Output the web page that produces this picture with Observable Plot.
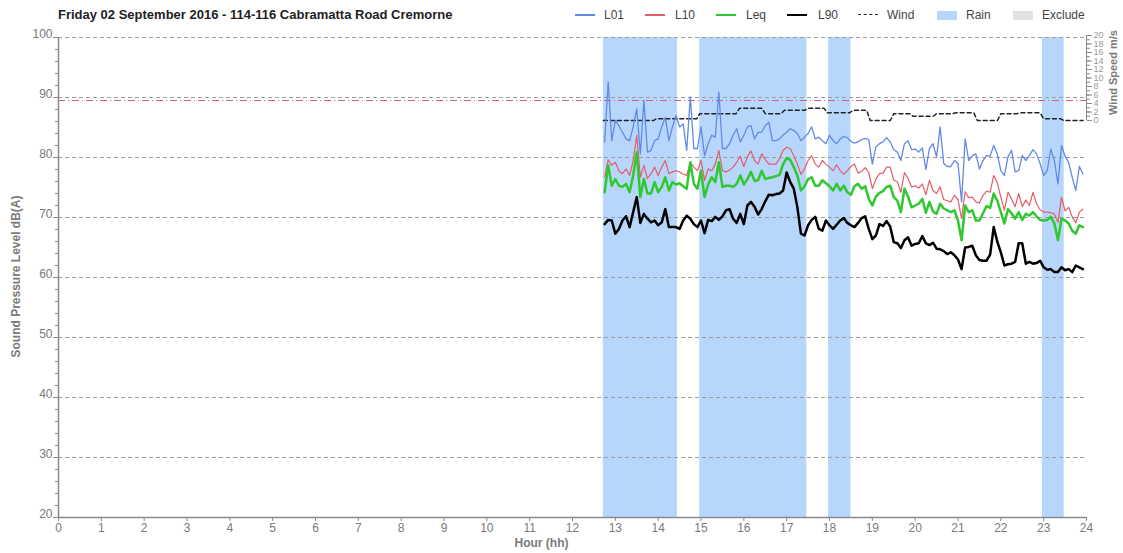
<!DOCTYPE html>
<html><head><meta charset="utf-8">
<script src="https://cdn.jsdelivr.net/npm/d3@7"></script>
<script src="https://cdn.jsdelivr.net/npm/@observablehq/plot@0.6"></script>
<style>
body{margin:0;background:#fff;font-family:"Liberation Sans",Arial,sans-serif;}
#wrap{position:relative;width:1123px;height:553px;overflow:hidden;}
#header{position:relative;height:26px;}
#title{position:absolute;left:58px;top:7px;font-weight:bold;font-size:13px;color:#222;white-space:nowrap;}
.lg{position:absolute;top:8px;font-size:12px;color:#444;white-space:nowrap;}
.sw{position:absolute;}
#chart svg{display:block;}
</style></head><body>
<div id="wrap"><div id="header"></div><div id="chart"></div></div>
<script>
// ---------- data ----------
const titleText = "Friday 02 September 2016 - 114-116 Cabramatta Road Cremorne";
const startHour = 12.75;       // 12:45
const stepHours = 5 / 60;      // 5-minute intervals

const L01 = [82.6,92.6,82.8,86.2,85.3,84.2,83.1,82.8,85.1,88.1,
  80.6,89.5,80.9,81.2,82.8,83.1,85.1,86.7,82.8,85.1,
  87.0,85.1,85.6,81.2,90.1,81.5,81.5,85.1,80.3,82.3,
  83.7,83.4,90.9,81.5,81.5,82.3,83.7,84.8,82.6,83.7,
  85.1,85.3,83.1,84.2,84.2,85.3,85.9,82.8,82.8,83.1,
  83.7,84.2,84.8,84.5,84.0,82.8,83.4,84.0,85.1,83.1,
  83.4,82.8,82.3,83.7,82.8,82.3,83.1,83.5,83.3,82.7,
  82.4,82.6,83.0,83.2,83.0,78.9,81.8,82.3,82.6,83.3,
  82.6,81.3,80.9,79.5,82.3,82.8,81.3,81.4,80.9,81.6,
  78.0,81.5,82.3,80.1,85.1,79.0,78.5,78.5,79.5,79.0,
  72.6,83.1,79.5,80.3,80.6,78.1,79.5,80.3,80.2,82.0,
  80.6,77.8,77.0,80.1,81.2,77.6,77.8,80.3,79.5,80.3,
  81.3,80.6,79.0,77.0,77.8,81.4,79.5,75.6,82.0,80.2,
  79.2,76.7,74.5,78.5,77.3];

const L10 = [76.7,79.6,78.7,79.2,77.8,77.3,78.1,77.0,79.5,83.7,
  76.7,78.7,76.5,77.3,78.4,77.0,78.4,79.5,77.3,77.6,
  77.8,77.6,77.2,77.0,79.2,78.4,77.8,79.5,76.2,78.1,
  77.8,78.9,81.2,77.8,77.6,77.9,78.4,79.2,80.2,78.5,
  80.1,81.1,79.5,78.9,80.6,79.7,78.9,78.9,78.9,79.8,
  81.2,81.7,81.5,80.3,78.9,77.2,78.1,79.5,80.3,78.9,
  78.4,79.5,78.9,78.4,77.8,78.8,77.8,77.2,77.8,78.5,
  78.9,77.4,77.7,78.3,77.5,74.8,76.4,77.3,77.4,78.4,
  78.4,76.2,76.0,74.2,77.5,76.5,75.1,75.3,74.9,75.6,
  73.8,76.2,74.5,74.0,75.1,73.0,72.8,72.6,73.7,73.0,
  69.8,74.3,73.3,73.4,72.6,72.4,73.7,74.4,74.2,77.0,
  75.8,73.4,71.2,74.2,73.1,71.8,74.0,71.8,72.9,72.0,
  74.2,72.3,71.3,70.9,70.9,70.8,70.6,69.2,73.4,71.1,
  71.7,70.1,69.1,70.9,71.4];

const Leq = [74.2,78.7,75.3,76.4,75.3,75.1,75.6,74.2,77.0,80.9,
  73.4,76.4,74.0,74.0,75.9,74.2,75.1,76.7,74.5,75.9,
  75.5,75.7,75.2,74.8,79.2,75.6,74.8,77.8,73.4,75.5,
  76.7,75.9,79.2,75.1,75.3,75.3,75.1,75.6,77.0,75.5,
  76.4,77.6,76.1,76.2,77.8,76.4,76.6,76.7,76.9,77.1,
  78.9,79.9,79.6,78.4,77.0,74.5,75.2,76.4,76.7,75.3,
  75.3,76.2,75.7,75.2,74.5,75.6,74.5,75.3,74.2,73.8,
  75.2,75.6,74.8,75.2,73.1,72.0,73.5,74.1,74.4,75.1,
  75.3,73.4,72.8,70.9,74.8,73.5,71.7,72.0,72.3,73.1,
  70.8,72.6,71.0,70.6,72.3,71.5,71.2,70.9,71.2,69.5,
  66.2,72.0,70.9,71.2,69.5,69.5,70.7,71.9,71.6,74.0,
  72.8,70.9,69.0,71.4,70.7,69.8,70.9,69.6,70.6,70.3,
  70.9,70.2,69.6,69.5,69.6,70.1,69.0,66.2,69.8,69.5,
  69.0,67.8,67.3,68.7,68.4];

const L90 = [68.9,69.6,69.5,67.3,68.1,69.5,70.2,68.4,70.9,73.4,
  69.1,70.6,69.8,69.2,69.5,68.7,69.2,71.4,68.4,68.4,
  68.4,68.1,69.5,70.3,69.8,68.9,68.4,69.5,67.4,69.6,
  69.4,70.1,69.6,70.2,71.2,71.4,69.8,69.1,70.6,68.9,
  72.0,72.6,71.8,70.5,71.4,72.7,73.8,73.7,73.9,74.0,
  74.5,77.5,75.9,74.8,71.7,67.3,67.0,68.7,69.6,70.1,
  68.1,67.8,69.5,68.7,68.1,68.8,69.5,69.9,69.1,68.7,
  68.4,69.1,69.9,70.2,68.1,66.4,67.0,68.9,68.6,69.4,
  68.5,65.9,65.7,64.9,66.2,66.7,65.3,65.6,65.7,66.9,
  65.7,65.4,65.8,64.8,64.7,64.4,63.9,64.2,63.7,63.0,
  61.4,65.0,65.1,65.3,63.7,62.9,62.8,62.8,63.8,68.4,
  66.0,64.2,62.0,62.2,62.3,62.6,65.7,65.7,62.3,62.6,
  62.3,62.4,62.8,61.7,61.3,61.4,60.9,60.9,61.7,61.2,
  61.4,60.9,62.0,61.7,61.4];

const windHours = [12.72,13.9,13.95,14.9,14.97,15.82,15.9,16.42,16.5,16.87,16.95,17.42,17.5,17.87,17.95,18.47,18.55,18.87,18.95,19.42,19.5,19.87,19.95,20.42,20.5,20.87,20.95,21.37,21.45,21.92,22.0,22.37,22.45,22.92,23.0,23.4,23.47,23.92];
const windSpeeds = [0,0,0.4,0.4,1.6,1.6,2.9,2.9,1.6,1.6,2.4,2.4,2.9,2.9,1.8,1.8,2.4,2.4,0,0,1.6,1.6,1.0,1.0,1.6,1.6,1.8,1.8,0,0,1.6,1.6,1.8,1.8,0.4,0.4,0,0];
const windThreshold = 4.7;

const rainStart = [12.72, 14.97, 17.98, 22.97];
const rainEnd   = [14.45, 17.47, 18.50, 23.48];

const dbTicks = [20,30,40,50,60,70,80,90,100];
const dbMinorTicks = d3.range(20, 101, 2);
const gridDb = [30,40,50,60,70,80,90,100];
const hourTicks = d3.range(0, 25, 1);
const windTicks = [0,2,4,6,8,10,12,14,16,18,20];
const windMinorTicks = d3.range(0, 21, 1);

const legendLabels = ["L01","L10","Leq","L90","Wind","Rain","Exclude"];
const yTitle = "Sound Pressure Level dB(A)";
const xTitle = "Hour (hh)";
const windTitle = "Wind Speed m/s";

// ---------- styles ----------
const colors = {L01:"#6389e6", L10:"#e55d68", Leq:"#2fc82f", L90:"#000000", Wind:"#222222", Rain:"#b6d7fb", Exclude:"#e2e2e2"};
const axisColor = "#8a8a8a";
const textColor = "#7a7a7a";

// wind axis maps onto the dB scale (0 m/s ≈ 86.17 dB, 20 m/s ≈ 100.33 dB)
const windZeroDb = 86.167, dbPerWind = 0.7083;
const toDb = w => windZeroDb + w * dbPerWind;

// ---------- header ----------
const header = document.getElementById("header");
const t = document.createElement("div"); t.id = "title"; t.textContent = titleText; header.appendChild(t);
const legendSw = [
  {left:575, w:20, type:"line", width:1.5},
  {left:645, w:20, type:"line", width:1.5},
  {left:716, w:20, type:"line", width:2},
  {left:787, w:20, type:"line", width:2.5},
  {left:858, w:20, type:"dash", width:1.5},
  {left:937, w:20, type:"box"},
  {left:1013, w:20, type:"box"}
];
const legendTextX = [604,675,746,818,887,966,1042];
legendLabels.forEach((lab, i) => {
  const s = legendSw[i];
  const d = document.createElement("div"); d.className = "sw";
  d.style.left = s.left + "px"; d.style.width = s.w + "px";
  const c = colors[lab];
  if (s.type === "line") { d.style.top = (15 - s.width/2) + "px"; d.style.height = s.width + "px"; d.style.background = c; }
  else if (s.type === "dash") { d.style.top = "14px"; d.style.height = "0"; d.style.borderTop = "1.5px dashed " + c; }
  else { d.style.top = "11px"; d.style.height = "9px"; d.style.background = c; }
  header.appendChild(d);
  const tx = document.createElement("div"); tx.className = "lg";
  tx.style.left = legendTextX[i] + "px"; tx.textContent = lab; header.appendChild(tx);
});

// ---------- chart ----------
const rows = L01.map((v, i) => ({t: startHour + i * stepHours, L01: v, L10: L10[i], Leq: Leq[i], L90: L90[i]}));
const windRows = windHours.map((h, i) => ({t: h, w: windSpeeds[i]}));
const rain = rainStart.map((s, i) => ({start: s, end: rainEnd[i]}));

const chart = Plot.plot({
  width: 1123, height: 527,
  marginLeft: 58, marginRight: 37, marginTop: 9, marginBottom: 36,
  x: {domain: [0, 24]},
  y: {domain: [20, toDb(20)]},
  style: {fontFamily: "Liberation Sans, Arial, sans-serif", fontSize: "12px", color: textColor, background: "white"},
  marks: [
    Plot.rect(rain, {x1: "start", x2: "end", y1: 20, y2: 100, fill: colors.Rain}),
    Plot.ruleY(gridDb, {stroke: "#9c9c9c", strokeDasharray: "4,3", strokeWidth: 1}),
    Plot.ruleY([windThreshold], {y: toDb, stroke: "#d6607f", strokeDasharray: "7,3,1,3", strokeWidth: 1}),
    Plot.line(windRows, {x: "t", y: d => toDb(d.w), stroke: colors.Wind, strokeWidth: 1.5, strokeDasharray: "4,3"}),
    Plot.line(rows, {x: "t", y: "L01", stroke: colors.L01, strokeWidth: 1.3}),
    Plot.line(rows, {x: "t", y: "L10", stroke: colors.L10, strokeWidth: 1.2}),
    Plot.line(rows, {x: "t", y: "Leq", stroke: colors.Leq, strokeWidth: 2.5}),
    Plot.line(rows, {x: "t", y: "L90", stroke: colors.L90, strokeWidth: 2.5}),
    // axis lines
    Plot.ruleX([0], {y1: 20, y2: 100, stroke: axisColor, strokeWidth: 1.5}),
    Plot.ruleY([20], {stroke: axisColor, strokeWidth: 1.5}),
    Plot.ruleX([24], {y1: toDb(0), y2: toDb(20), stroke: axisColor, strokeWidth: 1}),
    // left axis
    Plot.axisY(dbMinorTicks, {anchor: "left", tickSize: 3, tickFormat: () => "", stroke: axisColor, label: null}),
    Plot.axisY(dbTicks, {anchor: "left", tickSize: 5, tickFormat: () => "", stroke: axisColor, label: null}),
    Plot.axisY(dbTicks, {anchor: "left", tickSize: 0, tickPadding: 6, dy: -3, fontSize: 12, fill: textColor, label: null}),
    // bottom axis
    Plot.axisX(hourTicks, {anchor: "bottom", tickSize: 4, tickPadding: 2, fontSize: 12, stroke: axisColor, fill: textColor, label: null}),
    // right wind axis
    Plot.axisY(windMinorTicks.map(toDb), {anchor: "right", tickSize: 3, tickFormat: () => "", stroke: axisColor, label: null}),
    Plot.axisY(windTicks.map(toDb), {anchor: "right", tickSize: 5, tickPadding: 2, fontSize: 9, stroke: axisColor, fill: "#999",
      tickFormat: d => String(Math.round((d - windZeroDb) / dbPerWind)), label: null}),
    // titles
    Plot.text([yTitle], {frameAnchor: "left", dx: -42, rotate: -90, textAnchor: "middle", lineAnchor: "middle", fontWeight: "bold", fontSize: 12, fill: textColor}),
    Plot.text([xTitle], {frameAnchor: "bottom", dx: -31, dy: 26, textAnchor: "middle", lineAnchor: "middle", fontWeight: "bold", fontSize: 12, fill: textColor}),
    Plot.text([windTitle], {frameAnchor: "top-right", dx: 27, dy: 37, rotate: -90, textAnchor: "middle", lineAnchor: "middle", fontWeight: "bold", fontSize: 11, fill: textColor})
  ]
});
document.getElementById("chart").appendChild(chart);
</script>
</body></html>
